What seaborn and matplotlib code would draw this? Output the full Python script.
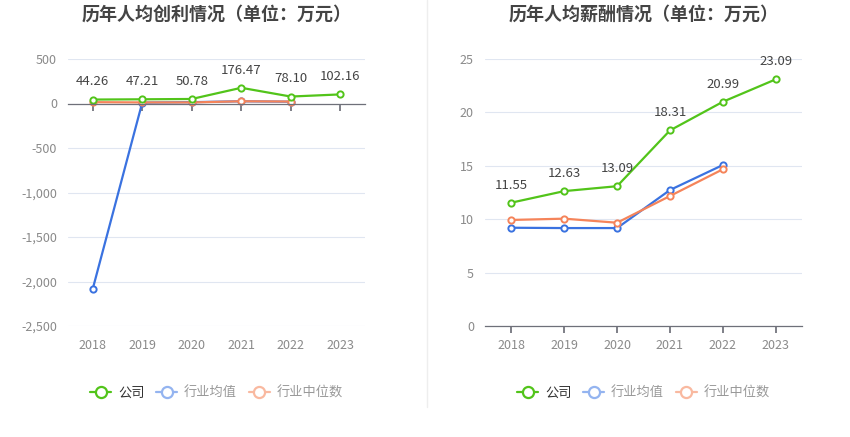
import matplotlib
matplotlib.use('Agg')
import matplotlib.pyplot as plt
import seaborn as sns
import pandas as pd
from matplotlib.lines import Line2D
from matplotlib.ticker import FuncFormatter

# data
years = ['2018', '2019', '2020', '2021', '2022', '2023']
series_names = ['公司', '行业均值', '行业中位数']

profit_company = [44.26, 47.21, 50.78, 176.47, 78.10, 102.16]
profit_avg = [-2083, 10, 15, 25, 20, None]
profit_median = [15, 12, 12, 25, 22, None]

salary_company = [11.55, 12.63, 13.09, 18.31, 20.99, 23.09]
salary_avg = [9.2, 9.17, 9.17, 12.73, 15.07, None]
salary_median = [9.93, 10.05, 9.67, 12.17, 14.67, None]

colors = ['#52c41a', '#3a72e0', '#f5845a']
legend_colors = ['#52c41a', '#94b4f0', '#f9b9a0']

sns.set_theme(style='white')
plt.rcParams['font.family'] = ['Noto Sans CJK SC', 'DejaVu Sans']

fig = plt.figure(figsize=(8.5, 4.37), dpi=100)
ax1 = fig.add_axes([68 / 850, 111 / 437, 297 / 850, 267 / 437])
ax2 = fig.add_axes([485 / 850, 111 / 437, 317 / 850, 267 / 437])


def draw(ax, company, avg, median, ylim, yticks, title, fmt):
    df = pd.DataFrame({'year': years, series_names[0]: company,
                       series_names[1]: avg, series_names[2]: median})
    long = df.melt(id_vars='year', var_name='series', value_name='value').dropna()
    long['x'] = long['year'].map({y: i for i, y in enumerate(years)})
    # blue first, then orange, company on top
    for k in [1, 2, 0]:
        sub = long[long['series'] == series_names[k]]
        c = colors[k]
        sns.lineplot(data=sub, x='x', y='value', ax=ax, color=c, lw=1.6,
                     marker='o', markersize=4.5, markerfacecolor='white',
                     markeredgecolor=c, markeredgewidth=1.4, legend=False)
    for i, v in enumerate(company):
        ax.annotate(f'{v:.2f}', (i, v), xytext=(0, 8), textcoords='offset points',
                    ha='center', va='bottom', fontsize=9.5, color='#444444')
    ax.set_xlim(-0.5, len(years) - 0.5)
    ax.set_ylim(*ylim)
    ax.set_yticks(yticks)
    ax.yaxis.set_major_formatter(FuncFormatter(fmt))
    ax.grid(axis='y', color='#e0e6f1', lw=0.8)
    ax.grid(axis='x', visible=False)
    for s in ['left', 'right', 'top']:
        ax.spines[s].set_visible(False)
    ax.spines['bottom'].set_position(('data', 0))
    ax.spines['bottom'].set_color('#6e7079')
    ax.spines['bottom'].set_linewidth(0.9)
    ax.set_xticks(range(len(years)))
    ax.tick_params(axis='x', direction='out', length=5, color='#6e7079',
                   labelbottom=False, bottom=True)
    ax.tick_params(axis='y', length=0, labelsize=9, labelcolor='#8a8a8a', pad=8)
    for i, y in enumerate(years):
        ax.text(i, -0.05, y, transform=ax.get_xaxis_transform(), ha='center',
                va='top', fontsize=9, color='#8a8a8a')
    ax.set_xlabel('')
    ax.set_ylabel('')
    ax.set_title(title, fontsize=13, fontweight='bold', color='#444444', pad=28)

    handles = [Line2D([0], [0], color=c, lw=1.6, marker='o', markersize=8,
                      markerfacecolor='white', markeredgecolor=c, markeredgewidth=1.6)
               for c in legend_colors]
    leg = ax.legend(handles, series_names, loc='center', bbox_to_anchor=(0.5, -0.25),
                    ncol=3, frameon=False, fontsize=9.5, handlelength=1.6,
                    handletextpad=0.5, columnspacing=0.9)
    for t, tc in zip(leg.get_texts(), ['#333333', '#999999', '#999999']):
        t.set_color(tc)


draw(ax1, profit_company, profit_avg, profit_median, (-2500, 500),
     [-2500, -2000, -1500, -1000, -500, 0, 500], '历年人均创利情况（单位：万元）',
     lambda v, p: f'{v:,.0f}')
draw(ax2, salary_company, salary_avg, salary_median, (0, 25),
     [0, 5, 10, 15, 20, 25], '历年人均薪酬情况（单位：万元）',
     lambda v, p: f'{v:.0f}')

fig.add_artist(Line2D([427 / 850, 427 / 850], [30 / 437, 1], color='#eeeeee', lw=1))

fig.savefig('out.png', dpi=100, facecolor='white')
